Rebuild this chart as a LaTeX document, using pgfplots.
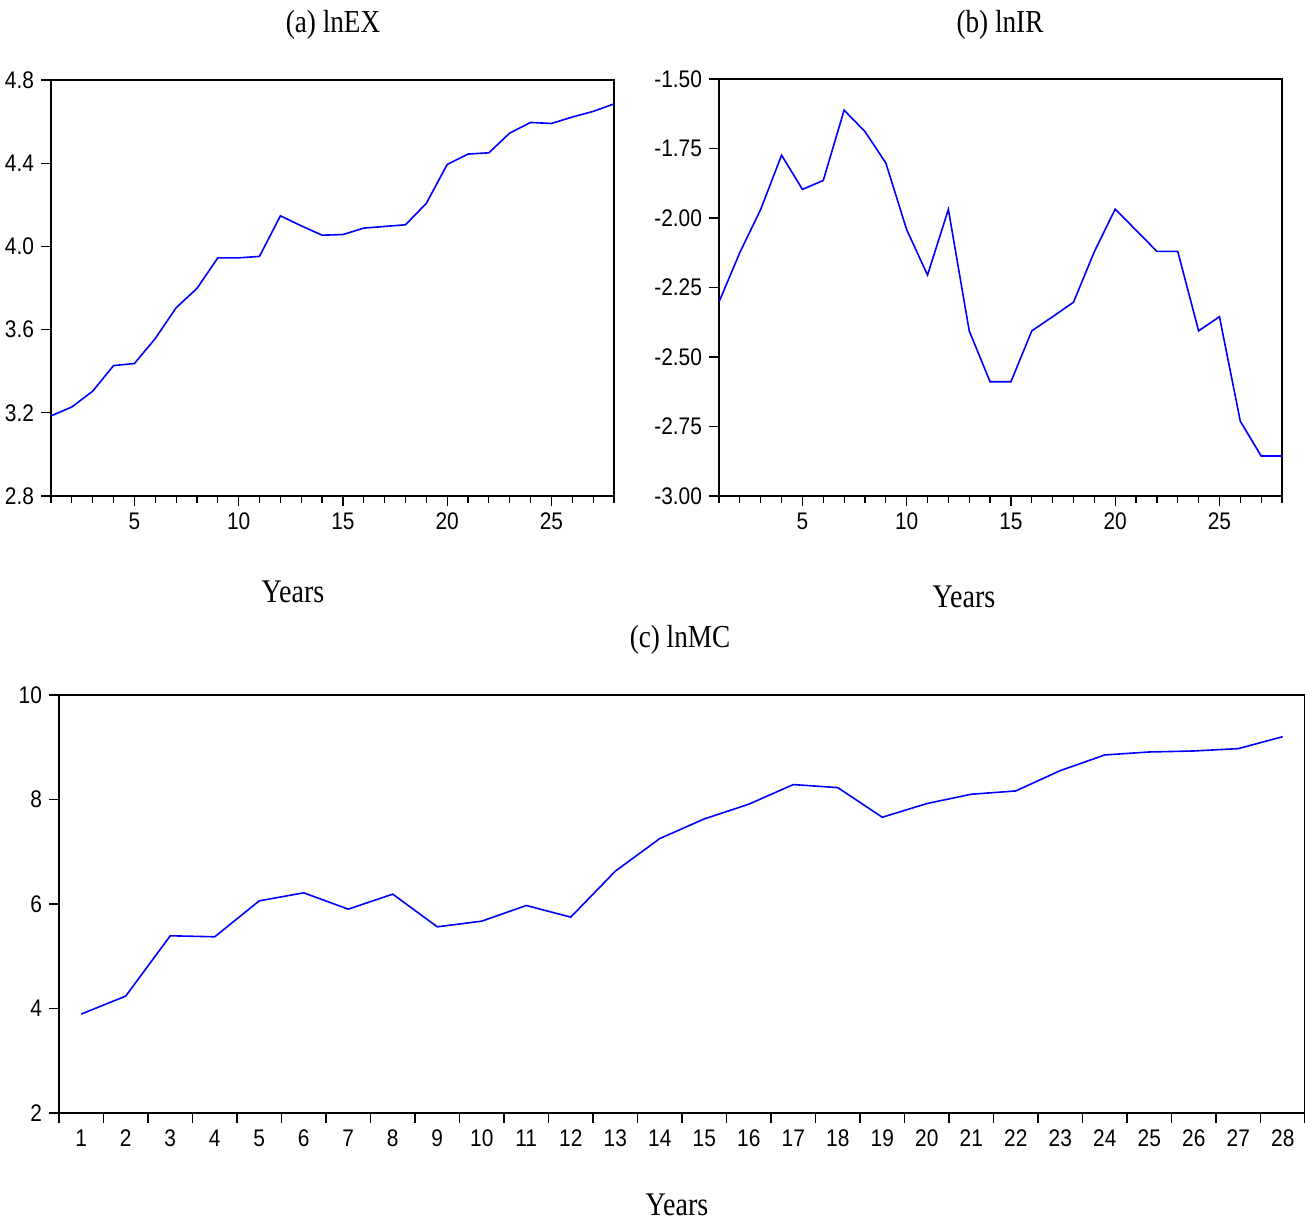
\documentclass[border=0pt]{standalone}
\usepackage{fontspec}
\setmainfont{Liberation Serif}[FakeStretch=0.85]
\newfontfamily\tsans{Liberation Sans}[FakeStretch=0.87]
\usepackage{pgfplots}
\pgfplotsset{compat=1.18}
\pgfplotsset{ev/.style={
  scale only axis,
  no markers,
  axis line style={black, line width=1pt},
  tick style={black, line width=0.6pt},
  tick align=outside,
  major tick length=5pt,
  minor tick length=3.5pt,
  xtick pos=bottom, ytick pos=left,
  tick label style={font=\tsans\fontsize{12}{13}\selectfont},
  every axis plot/.append style={color=blue, line width=0.8pt},
  anchor=south west,
}}
\begin{document}
\begin{tikzpicture}
\useasboundingbox (0,0) rectangle (652.5pt,-611pt);
% (a)
\begin{axis}[ev, at={(25.5pt,-248pt)}, width=281.5pt, height=208pt,
  xmin=1, xmax=28, ymin=2.8, ymax=4.8,
  ytick={2.8,3.2,3.6,4.0,4.4,4.8}, yticklabels={2.8,3.2,3.6,4.0,4.4,4.8},
  xtick={5,10,15,20,25}, xticklabels={5,10,15,20,25},
  minor xtick={1,...,28}]
\addplot coordinates {(1,3.185)(2,3.228)(3,3.304)(4,3.427)(5,3.437)(6,3.557)(7,3.705)(8,3.798)(9,3.945)(10,3.945)(11,3.952)(12,4.147)(13,4.099)(14,4.054)(15,4.057)(16,4.088)(17,4.096)(18,4.104)(19,4.207)(20,4.394)(21,4.444)(22,4.450)(23,4.545)(24,4.596)(25,4.591)(26,4.622)(27,4.649)(28,4.685)};
\end{axis}
% (b)
\begin{axis}[ev, at={(359.5pt,-248pt)}, width=281.5pt, height=208.5pt,
  xmin=1, xmax=28, ymin=-3, ymax=-1.5,
  ytick={-3,-2.75,-2.5,-2.25,-2,-1.75,-1.5}, yticklabels={-3.00,-2.75,-2.50,-2.25,-2.00,-1.75,-1.50},
  xtick={5,10,15,20,25}, xticklabels={5,10,15,20,25},
  minor xtick={1,...,28}]
\addplot coordinates {(1,-2.302)(2,-2.124)(3,-1.969)(4,-1.774)(5,-1.897)(6,-1.865)(7,-1.612)(8,-1.689)(9,-1.802)(10,-2.042)(11,-2.205)(12,-1.969)(13,-2.406)(14,-2.589)(15,-2.589)(16,-2.406)(17,-2.355)(18,-2.303)(19,-2.121)(20,-1.968)(21,-2.044)(22,-2.120)(23,-2.120)(24,-2.406)(25,-2.355)(26,-2.731)(27,-2.856)(28,-2.856)};
\end{axis}
% (c)
\begin{axis}[ev, at={(29.5pt,-556.5pt)}, width=623pt, height=209pt,
  xmin=0.5, xmax=28.5, ymin=2, ymax=10,
  ytick={2,4,6,8,10}, yticklabels={2,4,6,8,10},
  xtick={0.5,1.5,...,28.5},
  xticklabels={1,2,3,4,5,6,7,8,9,10,11,12,13,14,15,16,17,18,19,20,21,22,23,24,25,26,27,28,{}},
  xticklabel style={xshift=11.125pt}]
\addplot coordinates {(1,3.894)(2,4.238)(3,5.392)(4,5.373)(5,6.061)(6,6.214)(7,5.902)(8,6.189)(9,5.564)(10,5.672)(11,5.972)(12,5.749)(13,6.628)(14,7.253)(15,7.629)(16,7.910)(17,8.286)(18,8.228)(19,7.661)(20,7.922)(21,8.101)(22,8.164)(23,8.553)(24,8.853)(25,8.910)(26,8.929)(27,8.974)(28,9.203)};
\end{axis}
\node[font=\fontsize{16}{18}\selectfont] at (166.5pt,-12.5pt) {(a) lnEX};
\node[font=\fontsize{16}{18}\selectfont] at (500pt,-12.5pt) {(b) lnIR};
\node[font=\fontsize{16}{18}\selectfont] at (340pt,-320pt) {(c) lnMC};
\node[font=\fontsize{16.5}{18}\selectfont] at (146.5pt,-296pt) {Years};
\node[font=\fontsize{16.5}{18}\selectfont] at (482pt,-298.5pt) {Years};
\node[font=\fontsize{16.5}{18}\selectfont, inner sep=0pt] at (338.5pt,-602.5pt) {Years};
\end{tikzpicture}
\end{document}
